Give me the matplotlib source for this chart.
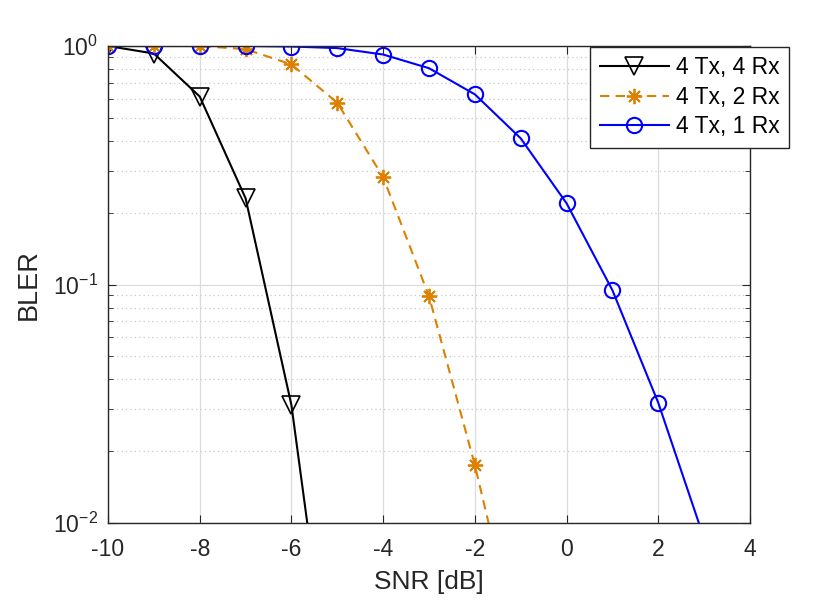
import numpy as np
import matplotlib
matplotlib.use("Agg")
import matplotlib.pyplot as plt
from matplotlib.ticker import LogLocator, NullFormatter, FixedLocator

plt.rcParams['font.family'] = ['Liberation Sans', 'DejaVu Sans']
plt.rcParams['mathtext.fontset'] = 'custom'
plt.rcParams['mathtext.rm'] = 'Liberation Sans'
plt.rcParams['mathtext.it'] = 'Liberation Sans:italic'
plt.rcParams['mathtext.bf'] = 'Liberation Sans:bold'

snr = [-10, -9, -8, -7, -6, -5, -4, -3, -2, -1, 0, 1, 2, 3]
bler_4rx = [1.0, 0.93, 0.614, 0.23, 0.0312, 0.00116]
bler_2rx = [1.0, 1.0, 1.0, 0.97, 0.837, 0.578, 0.282, 0.0893, 0.0175, 0.0027]
bler_1rx = [1.0, 1.0, 1.0, 1.0, 0.995, 0.98, 0.921, 0.807, 0.627, 0.410, 0.219, 0.0946, 0.0319, 0.0086]
labels = ['4 Tx, 4 Rx', '4 Tx, 2 Rx', '4 Tx, 1 Rx']
xticks = [-10, -8, -6, -4, -2, 0, 2, 4]

axcol = '#262626'
fig = plt.figure(figsize=(8.3, 6.05), dpi=100)
ax = fig.add_axes([108/830, 1 - 523/605, (750 - 108)/830, (523 - 46)/605])

ax.semilogy(snr[:len(bler_4rx)], bler_4rx, color='black', lw=1.5, marker='v',
            ms=12.5, mfc='none', mew=1.2, label=labels[0])
ax.semilogy(snr[:len(bler_2rx)], bler_2rx, color='#DD8000', lw=1.5, ls=(0, (4.5, 3)),
            marker=(8, 2, 0), ms=11, mew=1.3, label=labels[1])
ax.semilogy(snr[:len(bler_1rx)], bler_1rx, color='#0000FF', lw=1.5, marker='o',
            ms=11, mfc='none', mew=1.5, label=labels[2])

ax.set_xlim(-10, 4)
ax.set_ylim(1e-2, 1)
ax.xaxis.set_major_locator(FixedLocator(xticks))
ax.set_xticklabels([str(t) for t in xticks])
ax.yaxis.set_major_locator(LogLocator(base=10, numticks=10))
ax.yaxis.set_minor_locator(LogLocator(base=10, subs=np.arange(2, 10), numticks=10))
ax.yaxis.set_minor_formatter(NullFormatter())

ax.grid(True, which='major', color='#dcdcdc', lw=0.9, ls='-')
ax.grid(True, which='minor', axis='y', color='#c8c8c8', lw=0.9, ls=(0, (1, 2.5)))
ax.set_axisbelow(True)

for s in ax.spines.values():
    s.set_color(axcol)
    s.set_linewidth(1.0)
ax.tick_params(which='both', direction='in', top=True, right=True, colors=axcol,
               labelsize=16.5, labelcolor=axcol)
ax.tick_params(which='major', length=6, pad=7)
ax.tick_params(axis='x', which='major', pad=11)
ax.tick_params(which='minor', length=3.5)

ax.set_xlabel('SNR [dB]', fontsize=19, color=axcol, labelpad=6)
ax.set_ylabel('BLER', fontsize=19.5, color=axcol, labelpad=8)

leg = ax.legend(loc='upper right', bbox_to_anchor=(789/830, 1 - 46.5/605),
                bbox_transform=fig.transFigure, fontsize=16.5, frameon=True,
                fancybox=False, edgecolor=axcol, framealpha=1, handlelength=3.0,
                handletextpad=0.3, borderpad=0.42, labelspacing=0.28, borderaxespad=0)
leg.get_frame().set_linewidth(1.0)

fig.savefig('out.png', dpi=100)
